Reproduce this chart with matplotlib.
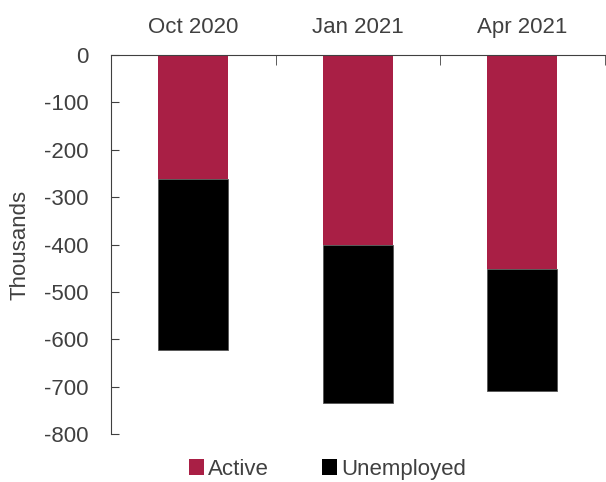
import numpy as np
import matplotlib.pyplot as plt
from matplotlib.patches import Patch

plt.rcParams['font.family'] = ['Liberation Sans', 'DejaVu Sans']
plt.rcParams['axes.unicode_minus'] = False

periods = ['Oct 2020', 'Jan 2021', 'Apr 2021']
active = [-262, -400, -451]
unemployed = [-360, -335, -259]

red = '#a91f45'
grey = '#404040'
fs = 16

fig = plt.figure(figsize=(6.06, 4.82), dpi=100)
ax = fig.add_axes([0.183, 0.0996, 0.815, 0.786])

x = np.arange(len(periods))
ax.bar(x, active, width=0.425, color=red, edgecolor='none')
ax.bar(x, unemployed, width=0.425, bottom=active, color='black',
       edgecolor='#555555', linewidth=0.6)

ax.set_xlim(-0.5, 2.5)
ax.set_ylim(-800, 0)
ax.set_yticks(np.arange(-800, 1, 100))

# category labels sit above the zero line
ax.xaxis.tick_top()
ax.set_xticks(x)
ax.set_xticklabels(periods, fontsize=fs, color=grey)
ax.set_xticks([-0.5, 0.5, 1.5, 2.5], minor=True)
ax.tick_params(axis='x', which='major', length=0, pad=12)
ax.tick_params(axis='x', which='minor', direction='in', length=7,
               color=grey, top=True, bottom=False)
ax.tick_params(axis='y', direction='in', length=6, color=grey,
               labelsize=fs, labelcolor=grey, pad=16)

for s in ['right', 'bottom']:
    ax.spines[s].set_visible(False)
ax.spines['top'].set_color(grey)
ax.spines['left'].set_color(grey)

ax.set_ylabel('Thousands', fontsize=fs, color=grey, labelpad=10)

handles = [Patch(facecolor=red), Patch(facecolor='black')]
fig.legend(handles, ['Active', 'Unemployed'], loc='center',
           bbox_to_anchor=(0.54, 0.026), ncol=2, frameon=False,
           fontsize=fs, handlelength=0.7, handleheight=0.7,
           handletextpad=0.15, columnspacing=2.4, labelcolor=grey,
           borderpad=0.1)

fig.savefig('out.png', dpi=100)
